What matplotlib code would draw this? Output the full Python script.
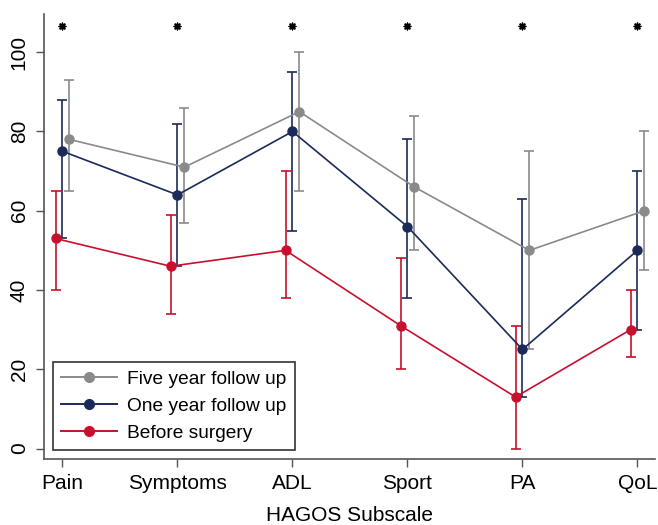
import matplotlib
matplotlib.use("Agg")
import matplotlib.pyplot as plt
from matplotlib.lines import Line2D
import numpy as np

plt.rcParams["font.family"] = ["Liberation Sans", "DejaVu Sans"]

categories = ["Pain", "Symptoms", "ADL", "Sport", "PA", "QoL"]

five_year = [78, 71, 85, 66, 50, 60]
five_year_lo = [65, 57, 65, 50, 25, 45]
five_year_hi = [93, 86, 100, 84, 75, 80]

one_year = [75, 64, 80, 56, 25, 50]
one_year_lo = [53, 46, 55, 38, 13, 30]
one_year_hi = [88, 82, 95, 78, 63, 70]

before = [53, 46, 50, 31, 13, 30]
before_lo = [40, 34, 38, 20, 0, 23]
before_hi = [65, 59, 70, 48, 31, 40]

star_level = 106.5

fig = plt.figure(figsize=(6.58, 5.25), dpi=100)
ax = fig.add_axes([0.067, 0.126, 0.928, 0.847])

x = np.arange(len(categories))
series = [
    ("Five year follow up", five_year, five_year_lo, five_year_hi, "#8a8a8a", 0.06),
    ("One year follow up", one_year, one_year_lo, one_year_hi, "#1b2a58", 0.0),
    ("Before surgery", before, before_lo, before_hi, "#c8102e", -0.06),
]
handles = []
for label, y, lo, hi, col, off in series:
    y = np.asarray(y, float)
    err = [y - np.asarray(lo, float), np.asarray(hi, float) - y]
    ax.errorbar(x + off, y, yerr=err, color=col, lw=1.2, marker="o", ms=6.5,
                capsize=3.5, elinewidth=1.2, capthick=1.2)
    handles.append(Line2D([], [], color=col, lw=1.4, marker="o", ms=7, label=label))

ax.scatter(x, [star_level] * len(x), marker=(8, 2, 0), s=22, color="black", lw=1.1)

ax.set_xlim(-0.16, 5.15)
ax.set_ylim(-2.6, 109.6)
ax.set_xticks(x)
ax.set_xticklabels(categories, fontsize=15)
ax.set_yticks([0, 20, 40, 60, 80, 100])
ax.set_yticklabels(["0", "20", "40", "60", "80", "100"], fontsize=15, rotation=90, va="center")
ax.tick_params(axis="both", direction="out", length=6, color="#555555", width=1, pad=5)
ax.set_xlabel("HAGOS Subscale", fontsize=15, labelpad=9)

for s in ("top", "right"):
    ax.spines[s].set_visible(False)
for s in ("left", "bottom"):
    ax.spines[s].set_color("#555555")
    ax.spines[s].set_linewidth(1.2)

leg = ax.legend(handles=handles, loc="lower left", fontsize=13.8, fancybox=False,
                edgecolor="#333333", framealpha=1, borderaxespad=0.45,
                handlelength=2.9, handletextpad=0.5, labelspacing=0.5, borderpad=0.45)
leg.get_frame().set_linewidth(1.2)

fig.savefig("out.png", dpi=100)
